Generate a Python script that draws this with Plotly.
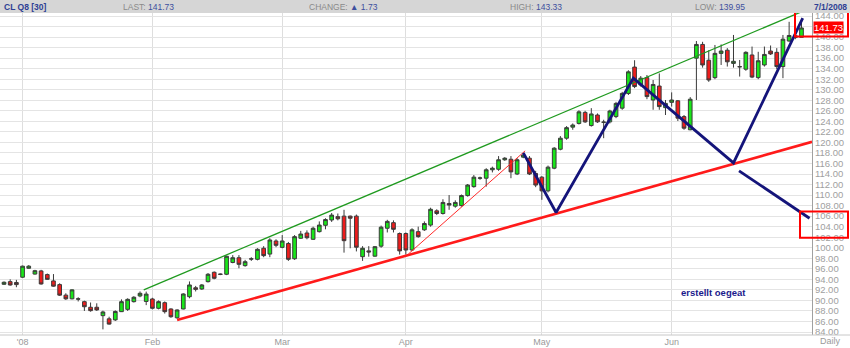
import plotly.graph_objects as go

# ---------------- data ----------------
dates = [
    "2007-12-27", "2007-12-28", "2007-12-31",
    "2008-01-02", "2008-01-03", "2008-01-04", "2008-01-07", "2008-01-08", "2008-01-09", "2008-01-10",
    "2008-01-11", "2008-01-14", "2008-01-15", "2008-01-16", "2008-01-17", "2008-01-18", "2008-01-22",
    "2008-01-23", "2008-01-24", "2008-01-25", "2008-01-28", "2008-01-29", "2008-01-30", "2008-01-31",
    "2008-02-01", "2008-02-04", "2008-02-05", "2008-02-06", "2008-02-07", "2008-02-08", "2008-02-11",
    "2008-02-12", "2008-02-13", "2008-02-14", "2008-02-15", "2008-02-18", "2008-02-19", "2008-02-20",
    "2008-02-21", "2008-02-22", "2008-02-25", "2008-02-26", "2008-02-27", "2008-02-28", "2008-02-29",
    "2008-03-03", "2008-03-04", "2008-03-05", "2008-03-06", "2008-03-07", "2008-03-10", "2008-03-11",
    "2008-03-12", "2008-03-13", "2008-03-14", "2008-03-17", "2008-03-18", "2008-03-19", "2008-03-20",
    "2008-03-24", "2008-03-25", "2008-03-26", "2008-03-27", "2008-03-28", "2008-03-31",
    "2008-04-01", "2008-04-02", "2008-04-03", "2008-04-04", "2008-04-07", "2008-04-08", "2008-04-09",
    "2008-04-10", "2008-04-11", "2008-04-14", "2008-04-15", "2008-04-16", "2008-04-17", "2008-04-18",
    "2008-04-21", "2008-04-22", "2008-04-23", "2008-04-24", "2008-04-25", "2008-04-28", "2008-04-29",
    "2008-04-30",
    "2008-05-01", "2008-05-02", "2008-05-05", "2008-05-06", "2008-05-07", "2008-05-08", "2008-05-09",
    "2008-05-12", "2008-05-13", "2008-05-14", "2008-05-15", "2008-05-16", "2008-05-19", "2008-05-20",
    "2008-05-21", "2008-05-22", "2008-05-23", "2008-05-27", "2008-05-28", "2008-05-29", "2008-05-30",
    "2008-06-02", "2008-06-03", "2008-06-04", "2008-06-05", "2008-06-06", "2008-06-09", "2008-06-10",
    "2008-06-11", "2008-06-12", "2008-06-13", "2008-06-16", "2008-06-17", "2008-06-18", "2008-06-19",
    "2008-06-20", "2008-06-23", "2008-06-24", "2008-06-25", "2008-06-26", "2008-06-27", "2008-06-30",
    "2008-07-01",
]

open_ = [
    93.06, 93.56, 93.40,
    94.40, 96.10, 95.00, 95.60, 94.90, 93.70, 93.00, 91.00, 90.30, 90.30, 89.76, 88.70, 88.70, 87.10,
    86.50, 86.30, 87.86, 88.30, 89.76, 90.84, 89.80,
    90.27, 88.50, 89.57, 88.37, 86.70, 88.37, 90.70, 92.40, 92.17, 93.56, 95.34, 95.00, 94.96, 97.20,
    98.10, 96.60, 97.90, 97.80, 99.90, 98.80, 101.28,
    100.07, 100.80, 97.90, 101.80, 102.80, 101.60, 103.05, 104.26, 105.27, 105.90, 106.00, 106.00,
    106.00, 98.30, 99.40, 98.40, 100.30, 103.70, 104.76, 102.70,
    102.70, 99.57, 103.05, 103.40, 104.30, 107.00, 106.50, 108.40, 107.90, 108.00, 109.90, 111.60,
    113.20, 113.20, 114.80, 114.90, 116.70, 116.80, 114.00, 117.20, 117.00, 114.10,
    113.40, 110.80, 115.10, 118.70, 120.80, 122.90, 123.60, 125.70, 123.20, 125.20, 123.80, 123.90,
    124.90, 126.50, 129.30, 134.30, 130.90, 132.30, 128.05, 130.70, 126.60,
    127.60, 127.90, 124.90, 122.40, 136.00, 138.60, 135.60, 132.30, 136.90, 137.50, 135.00, 134.40,
    133.90, 136.60, 132.30, 134.70, 137.35, 137.10, 134.40, 139.25, 140.26,
    139.95,
]

high = [
    93.60, 94.00, 93.90,
    96.60, 96.70, 95.80, 95.80, 95.10, 95.00, 93.25, 91.35, 92.10, 90.60, 89.95, 89.60, 89.45, 88.05,
    86.90, 88.10, 90.20, 90.40, 90.80, 91.70, 91.67,
    90.50, 90.00, 89.80, 88.50, 88.30, 91.35, 93.60, 92.75, 93.10, 95.20, 95.50, 95.10, 98.50, 98.60,
    98.60, 97.70, 98.20, 99.90, 100.30, 101.80, 101.60,
    102.40, 101.10, 102.40, 103.20, 103.30, 104.00, 105.00, 105.60, 106.60, 106.50, 107.20, 106.10,
    106.30, 100.30, 100.30, 100.30, 104.20, 105.30, 105.20, 102.90,
    102.90, 103.70, 104.00, 105.00, 107.60, 107.30, 109.20, 110.00, 109.00, 110.10, 112.10, 113.80,
    113.50, 115.10, 115.40, 117.40, 117.20, 117.40, 117.00, 118.00, 117.40, 114.60,
    113.60, 115.60, 119.10, 121.20, 123.10, 123.60, 126.10, 126.00, 126.50, 125.50, 124.30, 126.20,
    127.70, 129.60, 133.70, 135.60, 132.60, 132.80, 131.85, 133.10, 128.05,
    129.50, 128.05, 125.20, 128.60, 139.25, 139.10, 137.50, 138.50, 138.60, 137.90, 140.40, 135.65,
    137.30, 138.20, 137.20, 138.20, 138.40, 137.90, 140.40, 142.90, 140.80,
    143.33,
]

low = [
    92.95, 92.80, 92.50,
    94.30, 96.00, 94.90, 93.00, 93.90, 92.60, 90.84, 90.10, 90.20, 89.80, 88.00, 87.86, 88.00, 84.50,
    85.40, 86.10, 87.80, 88.00, 89.60, 90.60, 89.10,
    88.30, 88.30, 87.50, 86.70, 86.50, 88.30, 90.40, 91.70, 92.00, 93.40, 94.00, 94.80, 94.80, 97.05,
    96.10, 96.40, 97.50, 97.60, 98.20, 98.20, 100.10,
    99.90, 97.50, 97.70, 101.70, 101.60, 101.50, 102.90, 103.50, 104.90, 105.20, 99.07, 99.90,
    99.30, 97.50, 98.30, 98.30, 100.00, 102.90, 102.90, 98.70,
    98.70, 99.40, 101.90, 103.20, 104.00, 106.20, 106.30, 107.20, 107.60, 107.80, 109.70, 111.40,
    112.90, 111.60, 114.30, 114.60, 116.50, 113.20, 113.80, 117.00, 113.80, 111.50,
    109.10, 110.50, 114.90, 118.50, 120.50, 122.40, 123.40, 123.70, 123.00, 123.70, 120.80, 123.60,
    124.60, 126.20, 129.00, 130.30, 130.60, 128.20, 126.20, 126.20, 125.20,
    126.80, 124.06, 122.40, 122.30, 128.05, 134.20, 131.50, 132.00, 134.70, 134.40, 134.20, 132.50,
    133.60, 132.20, 132.00, 134.40, 136.60, 133.90, 132.20, 139.10, 139.60,
    139.95,
]

close = [
    93.44, 92.93, 93.00,
    96.50, 96.50, 95.64, 93.12, 94.00, 92.70, 91.00, 90.30, 92.00, 90.25, 88.80, 88.05, 88.20, 87.80,
    85.50, 87.90, 89.76, 90.20, 90.60, 91.35, 91.20,
    88.50, 89.76, 87.86, 86.90, 88.18, 91.22, 92.93, 92.10, 92.93, 94.96, 94.20, 94.95, 98.38, 98.10,
    96.85, 97.35, 97.85, 99.70, 98.50, 101.47, 100.46,
    101.28, 97.80, 102.10, 102.60, 101.90, 103.70, 104.30, 105.35, 106.20, 105.50, 101.34, 105.60,
    100.10, 99.90, 99.20, 100.20, 103.90, 105.00, 103.50, 99.40,
    99.57, 103.40, 102.10, 104.60, 107.30, 106.50, 108.60, 108.10, 108.60, 109.90, 111.90, 113.40,
    113.25, 114.80, 115.10, 116.70, 117.00, 114.40, 116.70, 117.60, 114.00, 111.90,
    110.80, 115.30, 118.90, 120.80, 122.80, 123.30, 125.80, 123.90, 125.40, 123.90, 123.85, 125.96,
    127.40, 129.30, 133.40, 130.60, 132.20, 128.70, 131.00, 126.80, 127.40,
    128.05, 124.60, 122.70, 128.20, 138.60, 134.70, 131.85, 136.90, 137.35, 135.30, 135.40, 134.35,
    137.10, 132.40, 135.50, 136.70, 136.80, 134.40, 139.60, 140.30, 139.90,
    141.73,
]

month_labels = ["'08", "Feb", "Mar", "Apr", "May", "Jun"]
month_starts = ["2008-01-02", "2008-02-01", "2008-03-03", "2008-04-01", "2008-05-01", "2008-06-02"]
y_ticks = list(range(84, 146, 2))

# hand-drawn annotation lines: (bar index, price)
green_channel = [(22.6, 92.0), (129.4, 145.0)]
red_support = [(28.0, 86.3), (130.7, 120.1)]
red_thin = [(65.4, 98.8), (84.3, 118.4)]
navy_path = [(84.0, 118.0), (89.3, 106.7), (101.8, 132.2), (118.0, 116.1), (129.2, 143.6)]
navy_projection = [(118.9, 114.6), (130.3, 105.6)]
box_top_prices = (145.1, 140.1)
box_low_prices = (106.9, 101.9)

header_symbol = "CL Q8 [30]"
header_last = "141.73"
header_change = "1.73"
header_high = "143.33"
header_low = "139.95"
header_date = "7/1/2008"
note_text = "erstellt oegeat"

# ---------------- figure ----------------
W, H = 850, 348
ML, MR, MT, MB = 0, 38, 13, 13
PW, PH = W - ML - MR, H - MT - MB

idx = list(range(len(dates)))
tickvals = [dates.index(d) for d in month_starts]

fig = go.Figure()
fig.add_trace(go.Candlestick(
    x=idx, open=open_, high=high, low=low, close=close,
    increasing=dict(fillcolor="#19e619", line=dict(color="#3a3a3a", width=1)),
    decreasing=dict(fillcolor="#ee1c1c", line=dict(color="#3a3a3a", width=1)),
    whiskerwidth=0, showlegend=False, hoverinfo="skip",
))


def add_line(points, color, width):
    fig.add_trace(go.Scatter(
        x=[p[0] for p in points], y=[p[1] for p in points], mode="lines",
        line=dict(color=color, width=width), showlegend=False, hoverinfo="skip",
    ))


add_line(green_channel, "#1f9a1f", 1.3)
add_line(red_support, "#ff1a1a", 2.6)
add_line(red_thin, "#ff2a2a", 1.0)
add_line(navy_path, "#14147a", 2.8)
add_line(navy_projection, "#14147a", 2.8)

shapes = []
# header band
shapes.append(dict(type="rect", xref="paper", yref="paper", x0=0, x1=W / PW,
                   y0=1, y1=1 + MT / PH, fillcolor="#d6d6d6", line=dict(width=0), layer="below"))
# bottom band top border
shapes.append(dict(type="line", xref="paper", yref="paper", x0=0, x1=W / PW, y0=0, y1=0,
                   line=dict(color="#c8c8c8", width=1)))
# red highlight boxes
for (ptop, pbot) in (box_top_prices, box_low_prices):
    shapes.append(dict(type="rect", xref="paper", yref="y", x0=(795 if ptop > 130 else 800) / PW,
                       x1=848 / PW, y0=pbot, y1=ptop, line=dict(color="#ff0000", width=2),
                       fillcolor="rgba(0,0,0,0)"))

annotations = []
hfont = dict(family="Liberation Sans, Arial", size=8.5, color="#8a8a8a")
blue = "#3d4f9e"


def header(px, text, bold=False, color=None, anchor="left"):
    f = dict(hfont)
    if color:
        f["color"] = color
    annotations.append(dict(xref="paper", yref="paper", x=px / PW, y=1 + (MT - 6.5) / PH,
                            text=("<b>%s</b>" % text) if bold else text, showarrow=False,
                            xanchor=anchor, yanchor="middle", font=f))


header(2, header_symbol, bold=True, color="#2e3f94")
header(121, "LAST: <span style='color:%s'>%s</span>" % (blue, header_last))
header(307, "CHANGE: <span style='color:%s'>\u25b2 %s</span>" % (blue, header_change))
header(508, "HIGH: <span style='color:%s'>%s</span>" % (blue, header_high))
header(693, "LOW: <span style='color:%s'>%s</span>" % (blue, header_low))
header(849, header_date, bold=True, color="#2e3f94", anchor="right")

annotations.append(dict(xref="paper", yref="y", x=(PW + 1) / PW, y=close[-1], text=close_text if False else "%.2f" % close[-1],
                        showarrow=False, xanchor="left", yanchor="middle",
                        bgcolor="#ff0000", borderpad=0,
                        font=dict(family="Liberation Sans, Arial", size=9.5, color="white")))
annotations.append(dict(xref="paper", yref="paper", x=830 / PW, y=-6.5 / PH, text="Daily",
                        showarrow=False, xanchor="center", yanchor="middle",
                        font=dict(family="Liberation Sans, Arial", size=9, color="#9a9a9a")))
annotations.append(dict(xref="paper", yref="paper", x=679 / PW, y=(335 - 292) / PH,
                        text="<b>%s</b>" % note_text, showarrow=False, xanchor="left", yanchor="middle",
                        font=dict(family="Liberation Sans, Arial", size=9.5, color="#1a1a8c")))

fig.update_layout(
    width=W, height=H, margin=dict(l=ML, r=MR, t=MT, b=MB),
    paper_bgcolor="white", plot_bgcolor="white", boxgap=0.15,
    shapes=shapes, annotations=annotations,
    xaxis=dict(type="linear", range=[-0.65, 130.7], tickvals=tickvals, ticktext=month_labels,
               showgrid=True, gridcolor="#dedede", gridwidth=1, zeroline=False,
               tickfont=dict(family="Liberation Sans, Arial", size=9, color="#9a9a9a"),
               rangeslider=dict(visible=False), fixedrange=True, ticks="", ticklen=0),
    yaxis=dict(side="right", range=[83.43, 144.57], tickvals=y_ticks, tickformat=".2f",
               showgrid=True, gridcolor="#e4e4e4", gridwidth=1, zeroline=False,
               showline=True, linecolor="#a0a0a0", linewidth=1, ticks="",
               tickfont=dict(family="Liberation Sans, Arial", size=9.5, color="#a0a0a0")),
    font=dict(family="Liberation Sans, Arial"),
)

fig.write_html("out.html")
